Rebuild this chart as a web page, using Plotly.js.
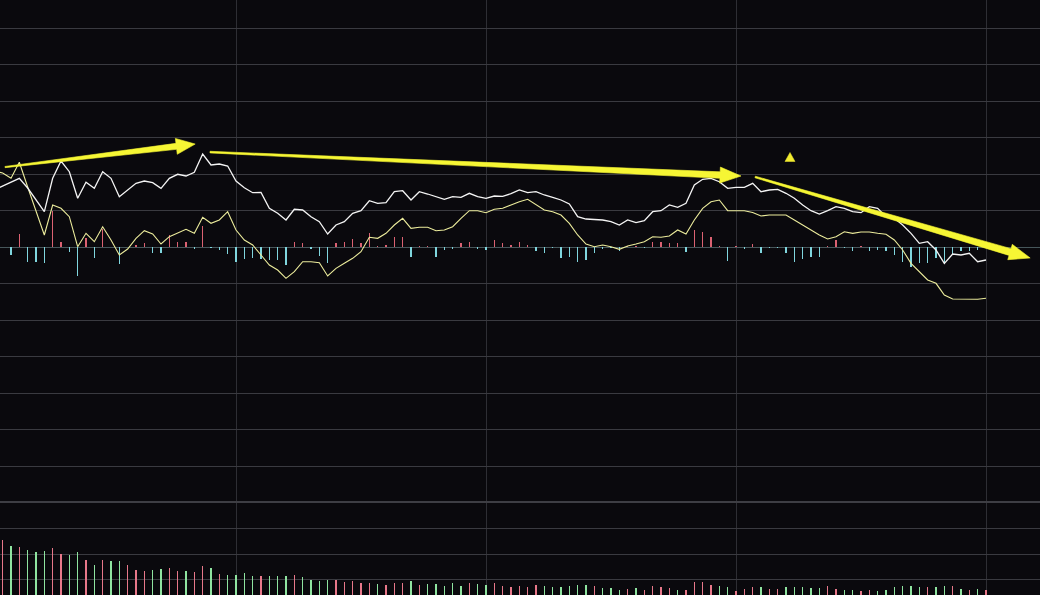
<!DOCTYPE html>
<html>
<head>
<meta charset="utf-8">
<script src="https://cdn.plot.ly/plotly-3.0.1.min.js"></script>
<style>
  html, body { margin: 0; padding: 0; background: #0a090d; }
  #chart { width: 1040px; height: 595px; }
</style>
</head>
<body>
<div id="chart"></div>
<script>
// ---- data (one value every 2 minutes, minute 2 .. 240) ----
const startMinute = 2;
const stepMinutes = 2;

// price line (white), change vs previous close
const price = [
  1.562, 1.671, 1.773, 1.882, 1.616, 1.288, 0.967, 1.882, 2.356, 2.063,
  1.334, 1.773, 1.608, 2.063, 1.882, 1.378, 1.562, 1.745, 1.808, 1.762,
  1.608, 1.882, 1.992, 1.945, 2.047, 2.548, 2.247, 2.274, 2.219, 1.808,
  1.625, 1.488, 1.493, 1.060, 0.923, 0.740, 1.033, 1.014, 0.830, 0.693,
  0.356, 0.603, 0.693, 0.923, 0.995, 1.268, 1.197, 1.214, 1.515, 1.542,
  1.288, 1.515, 1.452, 1.378, 1.307, 1.378, 1.362, 1.471, 1.378, 1.334,
  1.397, 1.389, 1.460, 1.562, 1.488, 1.515, 1.425, 1.362, 1.288, 1.178,
  0.830, 0.767, 0.759, 0.740, 0.693, 0.603, 0.740, 0.666, 0.721, 0.967,
  0.995, 1.151, 1.088, 1.197, 1.699, 1.855, 1.882, 1.789, 1.608, 1.636,
  1.636, 1.745, 1.515, 1.562, 1.581, 1.471, 1.334, 1.151, 0.995, 0.904,
  0.995, 1.104, 1.060, 0.967, 0.940, 1.104, 1.060, 0.830, 0.786, 0.603,
  0.375, 0.101, 0.145, -0.082, -0.447, -0.192, -0.219, -0.173, -0.403, -0.356
];

// average line (yellow)
const avgLine = [
  2.082, 2.027, 1.882, 2.321, 1.644, 0.959, 0.329, 1.151, 1.060, 0.830,
  0.008, 0.375, 0.145, 0.556, 0.192, -0.219, -0.055, 0.238, 0.447, 0.356,
  0.082, 0.282, 0.375, 0.485, 0.375, 0.814, 0.649, 0.740, 0.967, 0.466,
  0.192, 0.055, -0.219, -0.493, -0.630, -0.858, -0.677, -0.403, -0.403, -0.430,
  -0.795, -0.584, -0.447, -0.310, -0.129, 0.266, 0.238, 0.375, 0.603, 0.786,
  0.512, 0.540, 0.540, 0.447, 0.466, 0.556, 0.786, 0.995, 0.995, 0.940,
  1.033, 1.060, 1.151, 1.241, 1.307, 1.151, 1.014, 0.967, 0.877, 0.649,
  0.329, 0.082, 0.008, 0.055, 0.008, -0.063, 0.027, 0.082, 0.145, 0.282,
  0.266, 0.301, 0.466, 0.356, 0.740, 1.060, 1.241, 1.288, 0.995, 0.995,
  0.995, 0.945, 0.849, 0.877, 0.877, 0.877, 0.740, 0.603, 0.466, 0.329,
  0.219, 0.282, 0.419, 0.375, 0.411, 0.411, 0.375, 0.348, 0.192, -0.082,
  -0.447, -0.677, -0.904, -0.995, -1.315, -1.425, -1.433, -1.433, -1.433, -1.405
];

// histogram bars around the zero line
const histo = [
  0, 0, -0.219, 0.348, -0.411, -0.411, -0.438, 0.986, 0.137, -0.129,
  -0.795, 0.260, -0.301, 0.493, 0, -0.479, 0, 0.055, 0.101, -0.156,
  -0.156, 0.329, 0.145, 0.129, -0.063, 0.575, -0.027, -0.082, -0.192, -0.403,
  -0.337, -0.310, -0.329, -0.356, -0.356, -0.493, 0.145, 0.118, -0.063, -0.247,
  -0.430, 0.101, 0.145, 0.219, 0.101, 0.392, 0.014, 0.055, 0.266, 0.266,
  -0.266, 0.014, 0.014, -0.282, -0.082, -0.063, 0.118, 0.145, -0.063, -0.082,
  0.192, 0.110, 0.055, 0.129, 0.055, -0.101, -0.173, -0.014, -0.310, -0.266,
  -0.403, -0.356, -0.173, -0.063, -0.014, -0.110, 0.014, 0.014, -0.014, 0.145,
  0.145, 0.101, 0.101, -0.129, 0.466, 0.419, 0.282, 0.014, -0.375, 0.027,
  -0.063, 0.074, -0.156, -0.027, -0.014, -0.156, -0.403, -0.329, -0.266, -0.266,
  0.019, 0.192, -0.027, -0.110, 0.019, -0.110, -0.082, -0.110, -0.219, -0.403,
  -0.540, -0.447, -0.430, -0.310, -0.466, -0.200, -0.110, -0.110, -0.082, 0
];

// volume
const volume = [
  0, 55.3, 49.3, 48, 45, 42.7, 43.7, 47, 41.3, 39.7,
  42.7, 35.3, 30.3, 34.7, 33.7, 34.3, 30.3, 25.3, 23.7, 25.3,
  26.3, 27, 23.7, 24.3, 22.7, 28.7, 27, 21, 20.3, 20.3,
  22, 19.3, 18.7, 18.7, 19.3, 19.3, 19.7, 17.7, 15.3, 14.3,
  15.3, 15.3, 13, 13.7, 12, 12, 11, 10.3, 12, 12,
  13.7, 10.3, 11, 11, 9.3, 12, 9.3, 12, 11, 9.7,
  12, 8.7, 7.7, 9, 7.7, 10.3, 9.3, 7.7, 7.7, 8.7,
  10.3, 10.3, 9.3, 7, 7, 5.3, 6.3, 7, 5.3, 9.3,
  8.3, 7, 5.3, 5.3, 12.7, 12.7, 9.7, 8.7, 8, 4.3,
  6, 7.7, 7.7, 6.3, 6.3, 7.7, 7.7, 7.7, 7, 7,
  9.3, 6.3, 4.7, 5.3, 4.3, 5.3, 4.3, 5.3, 7.7, 9.3,
  8.7, 8, 7.7, 7.7, 9.3, 8.7, 6.3, 5.3, 6.3, 5.3
];

// volume direction: 1 = up (red), -1 = down (green)
const volumeDir = [
  0, 1, -1, 1, -1, -1, -1, 1, 1, -1,
  -1, 1, -1, 1, -1, -1, 1, 1, 1, -1,
  -1, 1, 1, -1, 1, 1, -1, 1, -1, -1,
  -1, -1, 1, -1, -1, -1, 1, -1, -1, -1,
  -1, 1, 1, 1, 1, 1, -1, 1, 1, 1,
  -1, 1, -1, -1, -1, -1, -1, 1, -1, -1,
  1, 1, 1, 1, 1, 1, -1, -1, -1, -1,
  -1, -1, 1, -1, -1, -1, 1, -1, 1, 1,
  1, 1, -1, 1, 1, 1, 1, -1, -1, 1,
  1, 1, -1, 1, 1, -1, -1, -1, -1, -1,
  1, 1, -1, -1, 1, 1, -1, -1, -1, -1,
  -1, -1, 1, -1, -1, 1, -1, 1, -1, 1
];

// session divider minutes
const dividerMinutes = [60, 120, 180, 240];

// ---- build ----
const minutes = price.map((_, i) => startMinute + i * stepMinutes);

const RED = '#dc6272', CYAN = '#80d6de', VRED = '#e8788a', VGREEN = '#8fe4a0';
const BG = '#0a090d';

const W = 1040, H = 595, MAIN_H = 502;
const XR = [3.36, 252.96];
const YR = [-6.986, 6.767];
const Y2R = [2, 95];

const traces = [
  {
    type: 'bar', x: minutes, y: histo, xaxis: 'x', yaxis: 'y',
    width: 0.36,
    marker: { color: histo.map(v => v >= 0 ? RED : CYAN), line: { width: 0 } },
    hoverinfo: 'skip'
  },
  {
    type: 'scatter', mode: 'lines', x: minutes, y: avgLine, xaxis: 'x', yaxis: 'y',
    line: { color: '#ecec9c', width: 1.1 }, hoverinfo: 'skip'
  },
  {
    type: 'scatter', mode: 'lines', x: minutes, y: price, xaxis: 'x', yaxis: 'y',
    line: { color: '#f4f4f4', width: 1.3 }, hoverinfo: 'skip'
  },
  {
    type: 'bar', x: minutes, y: volume, xaxis: 'x', yaxis: 'y2',
    base: Y2R[0], width: 0.36,
    marker: { color: volumeDir.map(d => d >= 0 ? VRED : VGREEN), line: { width: 0 } },
    hoverinfo: 'skip'
  }
];

// annotation arrows (data coordinates: minute, value)
function toPx(m, v) {
  return [(m - XR[0]) / (XR[1] - XR[0]) * W, (YR[1] - v) / (YR[1] - YR[0]) * MAIN_H];
}
function toPaper(p) { return [p[0] / W, 1 - p[1] / H]; }
function pathFrom(points) {
  return 'M ' + points.map(p => { const q = toPaper(p); return q[0].toFixed(5) + ',' + q[1].toFixed(5); }).join(' L ') + ' Z';
}
function arrowPath(a, b, w0, w1, L, hw) {
  const A = toPx(a[0], a[1]), B = toPx(b[0], b[1]);
  const dx = B[0] - A[0], dy = B[1] - A[1], len = Math.hypot(dx, dy);
  const d = [dx / len, dy / len], n = [-d[1], d[0]];
  const hb = [B[0] - d[0] * L, B[1] - d[1] * L];
  const P = (o, s) => [o[0] + n[0] * s, o[1] + n[1] * s];
  return pathFrom([P(A, w0 / 2), P(hb, w1 / 2), P(hb, hw), B, P(hb, -hw), P(hb, -w1 / 2), P(A, -w0 / 2)]);
}
function triPath(c, half, hgt) {
  const C = toPx(c[0], c[1]);
  return pathFrom([[C[0] - half, C[1] + hgt / 2], [C[0] + half, C[1] + hgt / 2], [C[0], C[1] - hgt / 2]]);
}

const arrows = [
  { from: [4.56, 2.19], to: [50.2, 2.82], w0: 1.2, w1: 6, L: 19, hw: 8 },
  { from: [53.76, 2.60], to: [181.2, 1.945], w0: 1.6, w1: 6.5, L: 21, hw: 8 },
  { from: [184.6, 1.918], to: [250.6, -0.30], w0: 1.6, w1: 7, L: 21, hw: 8 }
];
const marker = [192.96, 2.466];

const YELLOW = '#f6f634';
const shapes = [
  { type: 'line', xref: 'paper', yref: 'paper', x0: 0, x1: 1, y0: 1 - MAIN_H / H, y1: 1 - MAIN_H / H,
    line: { color: '#3e3e44', width: 2 } }
];
arrows.forEach(a => shapes.push({
  type: 'path', xref: 'paper', yref: 'paper', path: arrowPath(a.from, a.to, a.w0, a.w1, a.L, a.hw),
  fillcolor: YELLOW, line: { color: YELLOW, width: 0.6 }
}));
shapes.push({ type: 'path', xref: 'paper', yref: 'paper', path: triPath(marker, 5, 9),
  fillcolor: '#f2ec30', line: { color: '#f2ec30', width: 0.5 } });

const layout = {
  width: W, height: H,
  margin: { l: 0, r: 0, t: 0, b: 0, pad: 0 },
  paper_bgcolor: BG, plot_bgcolor: BG,
  showlegend: false,
  bargap: 0,
  xaxis: {
    range: XR, tickmode: 'array', tickvals: dividerMinutes, showticklabels: false,
    showgrid: true, gridcolor: '#2e2e34', gridwidth: 1, zeroline: false, showline: false,
    ticks: '', fixedrange: true, anchor: 'y2'
  },
  yaxis: {
    domain: [1 - MAIN_H / H, 1], range: YR, tickmode: 'linear', tick0: 0, dtick: 1,
    showticklabels: false, showgrid: true, gridcolor: '#3a3a40', gridwidth: 1,
    zeroline: true, zerolinecolor: '#46565a', zerolinewidth: 1, showline: false, ticks: '', fixedrange: true
  },
  yaxis2: {
    domain: [0, 1 - MAIN_H / H], range: Y2R, tickmode: 'array', tickvals: [18, 43, 69],
    showticklabels: false, showgrid: true, gridcolor: '#3a3a40', gridwidth: 1,
    zeroline: false, showline: false, ticks: '', fixedrange: true
  },
  shapes: shapes
};

Plotly.newPlot('chart', traces, layout, { staticPlot: true, displayModeBar: false });
</script>
</body>
</html>
